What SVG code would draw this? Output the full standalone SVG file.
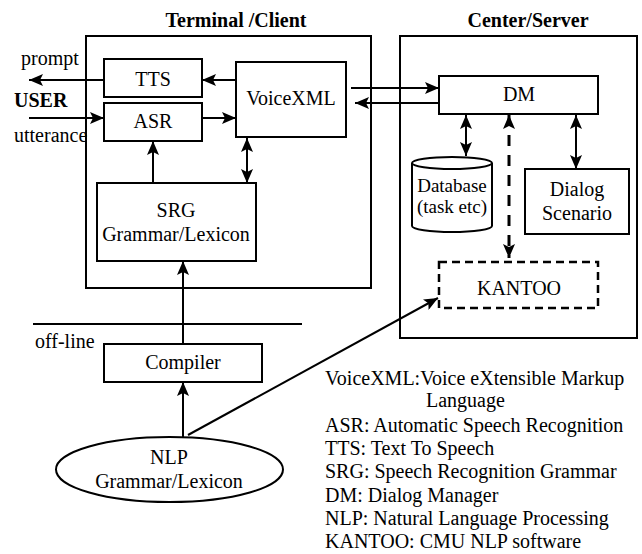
<svg xmlns="http://www.w3.org/2000/svg" width="642" height="554" viewBox="0 0 642 554">
<defs>
<marker id="ah" viewBox="0 0 14 12" refX="14" refY="6" markerWidth="14" markerHeight="12" markerUnits="userSpaceOnUse" orient="auto-start-reverse">
<path d="M0,0 L14,6 L0,12 L3,6 Z" fill="#000"/>
</marker>
</defs>
<style>
text{font-family:"Liberation Serif","Times New Roman",serif;font-size:20px;fill:#000}
.t{font-weight:bold}
.m{text-anchor:middle}
.s{font-size:19px}
.b{fill:#fff;stroke:#000;stroke-width:2}
.d{stroke-dasharray:8,5;stroke-width:2.5}
.c{fill:none;stroke:#000;stroke-width:2}
.dl{stroke-dasharray:11,9;stroke-width:3}
</style>
<rect width="642" height="554" fill="#fff"/>
<g id="terminal">
<rect class="b" x="86" y="36" width="285" height="252"/>
<text class="t m" x="236" y="27">Terminal /Client</text>
</g>
<g id="server">
<rect class="b" x="400" y="36" width="237" height="302"/>
<text class="t m" x="528" y="27">Center/Server</text>
</g>
<g id="tts"><rect class="b" x="104" y="59" width="98" height="38"/><text class="m" x="153" y="86">TTS</text></g>
<g id="asr"><rect class="b" x="104" y="103" width="98" height="38"/><text class="m" x="153" y="128">ASR</text></g>
<g id="voicexml"><rect class="b" x="236" y="62" width="110" height="75"/><text class="m" x="291" y="105">VoiceXML</text></g>
<g id="srg"><rect class="b" x="97" y="183" width="159" height="78"/><text class="m" x="176" y="217">SRG</text><text class="m" x="176" y="241">Grammar/Lexicon</text></g>
<g id="compiler"><rect class="b" x="104" y="344" width="158" height="38"/><text class="m" x="183" y="369">Compiler</text></g>
<g id="nlp"><ellipse class="b" cx="169.5" cy="469.5" rx="113.5" ry="32.5"/><text class="m" x="169" y="464">NLP</text><text class="m" x="169" y="488">Grammar/Lexicon</text></g>
<g id="dm"><rect class="b" x="439" y="76" width="159" height="38"/><text class="m" x="519" y="101">DM</text></g>
<g id="database">
<path class="b" d="M412,163 L412,226 A40,6 0 0 0 492,226 L492,163"/>
<ellipse class="b" cx="452" cy="163" rx="40" ry="6"/>
<text class="m s" x="452" y="192">Database</text><text class="m s" x="452" y="213">(task etc)</text>
</g>
<g id="dialog"><rect class="b" x="525" y="169" width="104" height="65"/><text class="m" x="577" y="196">Dialog</text><text class="m" x="577" y="220">Scenario</text></g>
<g id="kantoo"><rect class="b d" x="439" y="262" width="159" height="46"/><text class="m" x="519" y="295">KANTOO</text></g>
<g id="labels">
<text x="21" y="65">prompt</text>
<text class="t" x="14" y="107">USER</text>
<text x="14" y="142">utterance</text>
<text x="35" y="348">off-line</text>
</g>
<g id="legend">
<text x="325" y="385">VoiceXML:Voice eXtensible Markup</text>
<text x="426" y="407">Language</text>
<text x="325" y="432">ASR: Automatic Speech Recognition</text>
<text x="325" y="455">TTS: Text To Speech</text>
<text x="325" y="478">SRG: Speech Recognition Grammar</text>
<text x="325" y="502">DM: Dialog Manager</text>
<text x="325" y="525">NLP: Natural Language Processing</text>
<text x="325" y="548">KANTOO: CMU NLP software</text>
</g>
<g id="connectors">
<line class="c" x1="104" y1="80" x2="29" y2="80" marker-end="url(#ah)"/>
<line class="c" x1="29" y1="118" x2="104" y2="118" marker-end="url(#ah)"/>
<line class="c" x1="236" y1="80" x2="202" y2="80" marker-end="url(#ah)"/>
<line class="c" x1="202" y1="118" x2="236" y2="118" marker-end="url(#ah)"/>
<line class="c" x1="153" y1="183" x2="153" y2="141" marker-end="url(#ah)"/>
<line class="c" x1="247" y1="138" x2="247" y2="183" marker-start="url(#ah)" marker-end="url(#ah)"/>
<line class="c" x1="183" y1="344" x2="183" y2="261" marker-end="url(#ah)"/>
<line class="c" x1="183" y1="437" x2="183" y2="382" marker-end="url(#ah)"/>
<line class="c" x1="33" y1="324" x2="302" y2="324"/>
<line class="c" x1="188" y1="435" x2="438" y2="298" marker-end="url(#ah)"/>
<line class="c" x1="351" y1="88" x2="439" y2="88" marker-end="url(#ah)"/>
<line class="c" x1="439" y1="103" x2="355" y2="103" marker-end="url(#ah)"/>
<line class="c" x1="466" y1="115" x2="466" y2="156" marker-start="url(#ah)" marker-end="url(#ah)"/>
<line class="c" x1="576" y1="115" x2="576" y2="169" marker-start="url(#ah)" marker-end="url(#ah)"/>
<line class="c dl" x1="509" y1="115" x2="509" y2="258" marker-start="url(#ah)" marker-end="url(#ah)"/>
</g>
</svg>
